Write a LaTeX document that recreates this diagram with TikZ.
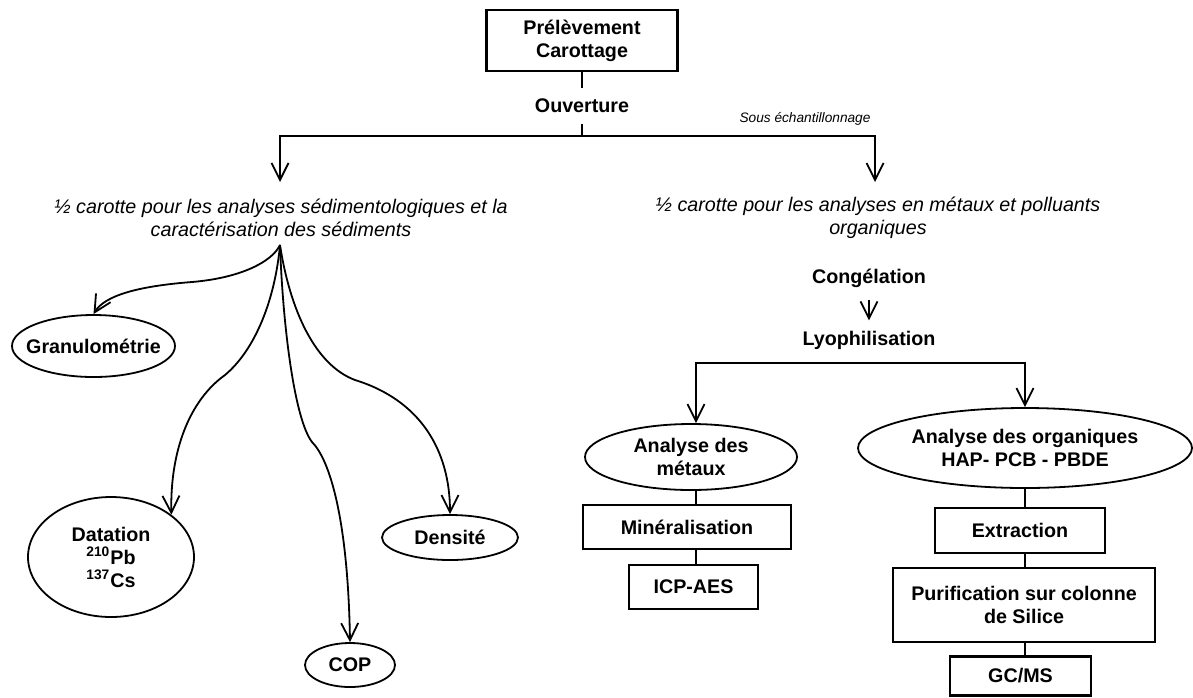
\documentclass[tikz,border=0pt]{standalone}
\usepackage{fontspec}
\setmainfont{Liberation Sans}
\usetikzlibrary{arrows.meta,shapes.geometric}

\begin{document}
\begin{tikzpicture}[x=0.5pt, y=-0.5pt,
    boite/.style={draw, line width=1.1pt, align=center, inner sep=0pt,
        font=\fontsize{9.85}{11.5}\selectfont\bfseries},
    bulle/.style={draw, ellipse, line width=0.9pt, align=center, inner sep=0pt,
        font=\fontsize{9.85}{11.5}\selectfont\bfseries},
    etape/.style={align=center, inner sep=0pt, font=\fontsize{9.85}{11.5}\selectfont\bfseries},
    demi/.style={align=center, font=\fontsize{9.85}{11.5}\selectfont\itshape},
    trait/.style={line width=0.9pt},
    fleche/.style={line width=0.9pt, -{Straight Barb[length=8.5pt, width=8.5pt]}}]
    \useasboundingbox (0,0) rectangle (1193,697);

    % Tronc commun
    \node[boite, minimum width=95.5pt, minimum height=30.5pt] (prelev) at (582,40.5) {Prélèvement\\Carottage};
    \node[etape, minimum height=18pt] (ouv) at (582,106) {Ouverture};
    \node[font=\fontsize{6.85}{8}\selectfont\itshape] (sous) at (805,119) {Sous échantillonnage};
    \coordinate (barreG) at (280,136);
    \coordinate (barreD) at (875,136);
    \coordinate (pointeG) at (280,182);
    \coordinate (pointeD) at (875,182);

    \draw[trait] (prelev) -- (ouv);
    \draw[trait] (ouv) -- (ouv |- barreG);
    \draw[fleche] (barreD) -- (barreG) -- (pointeG);
    \draw[fleche] (barreG) -- (barreD) -- (pointeD);

    % Les deux demi carottes
    \node[demi] (demiG) at (281,218) {½ carotte pour les analyses sédimentologiques et la\\caractérisation des sédiments};
    \node[demi] (demiD) at (878,218) {½ carotte pour les analyses en métaux et polluants\\organiques};

    % Analyses sedimentologiques
    \coordinate (depart) at (280,245);
    \node[bulle, minimum width=81.5pt, minimum height=31pt, inner xsep=-5pt] (granulo) at (93.5,346) {Granulométrie};
    \node[bulle, minimum width=83pt, minimum height=60pt] (datation) at (111,557) {Datation\\\textsuperscript{210}Pb\\\textsuperscript{137}Cs};
    \node[bulle, minimum width=45pt, minimum height=22pt] (cop) at (350,665) {COP};
    \node[bulle, minimum width=68pt, minimum height=22.5pt] (densite) at (450,537.5) {Densité};

    \draw[fleche] (depart) .. controls (272,262) and (240,278) .. (192,282)
        .. controls (140,286) and (105,295) .. (granulo.north);
    \draw[fleche] (depart) .. controls (275,300) and (255,350) .. (225,375)
        .. controls (190,400) and (170,450) .. (datation.35);
    \draw[fleche] (depart) .. controls (283,330) and (295,420) .. (312,442)
        .. controls (330,460) and (348,520) .. (cop.north);
    \draw[fleche] (depart) .. controls (290,310) and (315,365) .. (355,380)
        .. controls (420,400) and (450,450) .. (densite.north);

    % Metaux et organiques
    \node[etape] (congel) at (869,278) {Congélation};
    \node[etape] (lyophil) at (869,340) {Lyophilisation};
    \coordinate (barreM) at (696,363);
    \coordinate (barreO) at (1025,363);
    \draw[fleche, shorten <=6pt, shorten >=5pt] (congel) -- (lyophil);

    \node[bulle, minimum width=106pt, minimum height=33pt] (metaux) at (691,457) {Analyse des\\métaux};
    \node[boite, minimum width=104pt, minimum height=22pt] (minera) at (687,527) {Minéralisation};
    \node[boite, minimum width=64.5pt, minimum height=22pt] (icp) at (693.5,587) {ICP-AES};

    \node[bulle, minimum width=167pt, minimum height=40pt] (organ) at (1025,448) {Analyse des organiques\\HAP- PCB - PBDE};
    \node[boite, minimum width=85pt, minimum height=22.5pt] (extrac) at (1020,530.5) {Extraction};
    \node[boite, minimum width=131pt, minimum height=37pt] (purif) at (1024,605) {Purification sur colonne\\de Silice};
    \node[boite, minimum width=70.5pt, minimum height=19.5pt] (gcms) at (1020.5,676) {GC/MS};

    \draw[fleche] (barreO) -- (barreM) -- (barreM |- metaux.north);
    \draw[fleche] (barreM) -- (barreO) -- (barreO |- organ.north);
    \draw[trait] (metaux.south -| barreM) -- (minera.north -| barreM);
    \draw[trait] (minera.south -| barreM) -- (icp.north -| barreM);
    \draw[trait] (organ.south -| barreO) -- (extrac.north -| barreO);
    \draw[trait] (extrac.south -| barreO) -- (purif.north -| barreO);
    \draw[trait] (purif.south -| barreO) -- (gcms.north -| barreO);
\end{tikzpicture}
\end{document}
